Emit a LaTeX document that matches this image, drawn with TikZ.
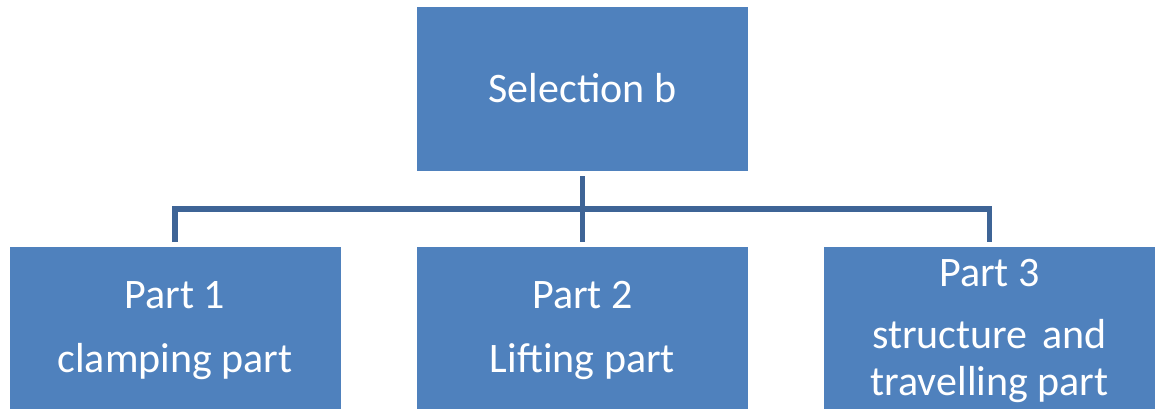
\documentclass[tikz,border=0pt]{standalone}
\usepackage{fontspec}
\setmainfont{Carlito}
\definecolor{boxblue}{RGB}{79,129,189}
\definecolor{linkblue}{RGB}{62,100,150}
\begin{document}
\begin{tikzpicture}[x=1pt,y=1pt,
  box/.style={draw=none,fill=boxblue,minimum width=331pt,minimum height=164pt,inner sep=0pt,outer sep=0pt},
  lbl/.style={text=white,anchor=base,inner sep=0pt,font=\fontsize{42}{50}\selectfont},
  conn/.style={draw=linkblue,line width=5.5pt,line join=miter}]
\useasboundingbox (0,0) rectangle (1155,408);
\clip (0,0) rectangle (1155,408);
\node[box] (top) at (582.5,319) {};
\node[box] (b1) at (175,79) {};
\node[box] (b2) at (582.5,79) {};
\node[box] (b3) at (989.5,79) {};
\coordinate (hb) at (582.5,199);
\node[lbl] (ttop) at (582.5,306) {Selection b};
\node[lbl] (t1a) at (175,100) {Part 1};
\node[lbl] (t1b) at (175,36) {clamping part};
\node[lbl] (t2a) at (582.5,100) {Part 2};
\node[lbl] (t2b) at (582.5,36) {Lifting part};
\node[lbl] (t3a) at (989.5,122) {Part 3};
\node[lbl] (t3b) at (989.5,60) {structure\hspace{0.35em}and};
\node[lbl] (t3c) at (989.5,13) {travelling part};
\draw[conn,shorten <=5pt,shorten >=5pt] (top.south) -- (b2.north);
\draw[conn,shorten <=5pt,shorten >=5pt] (b1.north) |- (hb) -| (b3.north);
\end{tikzpicture}
\end{document}
